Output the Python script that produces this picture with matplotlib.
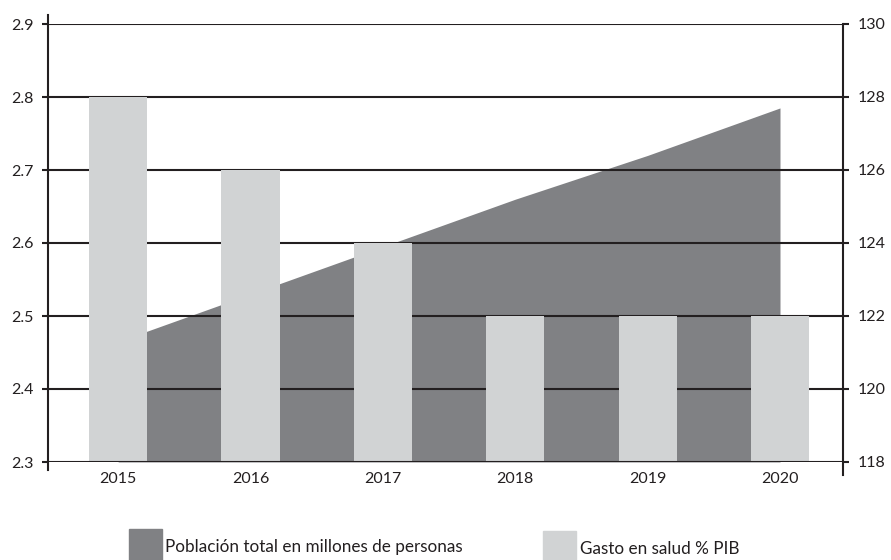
import matplotlib
matplotlib.use("Agg")
import matplotlib.pyplot as plt
from matplotlib.patches import Rectangle

years = ["2015", "2016", "2017", "2018", "2019", "2020"]
gasto_salud = [2.8, 2.7, 2.6, 2.5, 2.5, 2.5]
poblacion = [121.3, 122.6, 123.9, 125.2, 126.4, 127.7]

gasto_ticks = [2.3, 2.4, 2.5, 2.6, 2.7, 2.8, 2.9]
gasto_labels = ["2.3", "2.4", "2.5", "2.6", "2.7", "2.8", "2.9"]
pob_ticks = [118, 120, 122, 124, 126, 128, 130]

DARK = "#808184"
LIGHT = "#D1D3D4"
INK = "#231F20"

plt.rcParams["font.family"] = ["Lato", "DejaVu Sans"]
plt.rcParams["font.size"] = 11.5

fig = plt.figure(figsize=(8.91, 5.6), dpi=100)
ax_pop = fig.add_axes([48 / 891, 1 - 462 / 560, 795 / 891, 438 / 560])
x = list(range(len(years)))

# area (population, right scale) sits underneath everything
ax_pop.fill_between(x, poblacion, 118, color=DARK, linewidth=0, zorder=1)
ax_pop.set_ylim(118, 130)
ax_pop.set_xlim(-0.53, 5.476)
ax_pop.set_xticks(x)
ax_pop.set_xticklabels(years, color=INK)
ax_pop.tick_params(axis="x", length=0, pad=7)

# bars and grid (health spending, left scale) on top
ax_gasto = ax_pop.twinx()
for t in gasto_ticks:
    # bottom line stays visible over the bars
    ax_gasto.axhline(t, color=INK, linewidth=1.5, zorder=3 if t == 2.3 else 1)
ax_gasto.bar(x, [g - 2.3 for g in gasto_salud], bottom=2.3, width=0.44,
             color=LIGHT, linewidth=0, zorder=2)
ax_gasto.set_ylim(2.3, 2.9)
ax_gasto.set_yticks(gasto_ticks)
ax_gasto.set_yticklabels(gasto_labels, color=INK)

ax_pop.yaxis.tick_right()
ax_pop.set_yticks(pob_ticks)
ax_pop.set_yticklabels([str(v) for v in pob_ticks], color=INK)
ax_gasto.yaxis.tick_left()

for a in (ax_pop, ax_gasto):
    for s in a.spines.values():
        s.set_visible(False)
ax_gasto.tick_params(axis="y", direction="out", length=4.5, width=1.5,
                     color=INK, pad=6)
ax_pop.tick_params(axis="y", direction="out", length=4.5, width=1.5,
                   color=INK, pad=6)

# vertical axis lines that poke past the plot area
ax_gasto.plot([0, 0], [-0.018, 1.021], transform=ax_gasto.transAxes,
              color=INK, linewidth=1.5, clip_on=False, zorder=3)
ax_gasto.plot([1, 1], [-0.03, 1.0], transform=ax_gasto.transAxes,
              color=INK, linewidth=1.5, clip_on=False, zorder=3)

# legend at the bottom, partly cut by the figure edge
fig.patches.append(Rectangle((129 / 891, 0), 33 / 891, 31 / 560,
                             transform=fig.transFigure, color=DARK))
fig.text(165 / 891, 1 - 552 / 560, "Población total en millones de personas",
         va="baseline", ha="left", color=INK, fontsize=12.3)
fig.patches.append(Rectangle((543 / 891, 0), 33 / 891, 29 / 560,
                             transform=fig.transFigure, color=LIGHT))
fig.text(580 / 891, 1 - 554 / 560, "Gasto en salud % PIB",
         va="baseline", ha="left", color=INK, fontsize=12.3)

fig.savefig("out.png", dpi=100)
